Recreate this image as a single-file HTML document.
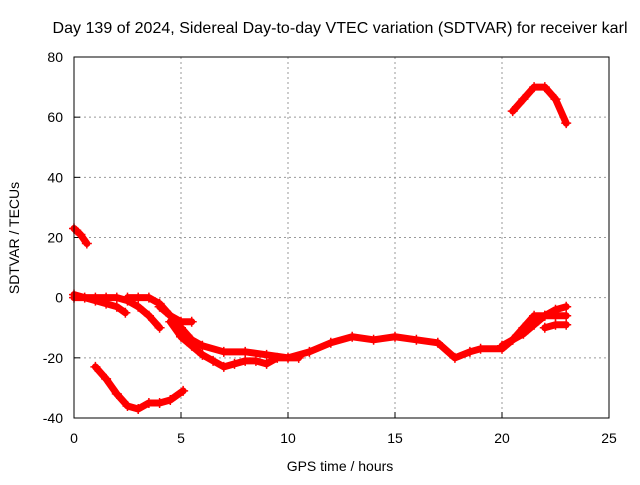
<!DOCTYPE html>
<html><head><meta charset="utf-8"><style>
body{margin:0;background:#fff}
svg text{font-family:"Liberation Sans",sans-serif;font-size:14px;fill:#000}
</style></head><body>
<svg width="640" height="480" id="c">
<rect width="640" height="480" fill="#fff"/>
<text x="340" y="33" text-anchor="middle" style="font-size:16px" textLength="575">Day 139 of 2024, Sidereal Day-to-day VTEC variation (SDTVAR) for receiver karl</text>
<text x="340" y="471" text-anchor="middle">GPS time / hours</text>
<text transform="translate(19,238) rotate(-90)" text-anchor="middle">SDTVAR / TECUs</text>
<g id="grid"></g><g id="marks"></g>
<rect x="74" y="57" width="535" height="361" fill="none" stroke="#000"/>
</svg>
<script>
const xTicks=[0,5,10,15,20,25];
const yTicks=[-40,-20,0,20,40,60,80];
const s1=[[0,23],[0.3,21],[0.6,18]];
const s2=[[1,-23],[1.5,-27],[2,-32],[2.5,-36],[3,-37],[3.5,-35],[4,-35],[4.5,-34],[5.1,-31]];
const s3=[[0,1],[0.5,0],[1,-1],[1.5,-2],[2,-3],[2.4,-5]];
const s4=[[0,0],[1,0],[1.5,0],[2,0],[2.5,-1],[3,-3],[3.5,-6],[4,-10]];
const s5=[[2.5,0],[3,0],[3.5,0],[4,-2],[4.5,-6],[5,-10],[5.5,-14],[6,-16],[7,-18],[8,-18],[9,-19],[10,-20],[11,-18],[12,-15],[13,-13],[14,-14],[15,-13],[16,-14],[17,-15],[17.8,-20],[18.5,-18],[19,-17],[20,-17],[20.5,-14],[21,-10],[21.5,-6],[22,-6],[22.5,-6],[23,-6]];
const s6=[[4,-3],[4.5,-6],[5,-8],[5.5,-8]];
const s7=[[4.5,-8],[5,-13],[5.5,-16],[6,-19],[6.5,-21],[7,-23],[7.5,-22],[8,-21],[8.5,-21],[9,-22],[9.5,-20],[10.5,-20]];
const s8=[[20.5,62],[21,66],[21.5,70],[22,70],[22.5,66],[23,58]];
const s9=[[20,-16],[20.5,-14],[21,-12],[21.5,-9],[22,-6],[22.5,-4],[23,-3]];
const s10=[[22,-10],[22.5,-9],[23,-9]];
const series=[s1,s2,s3,s4,s5,s6,s7,s8,s9,s10];
const X=v=>74+v*535/25, Y=v=>418-(v+40)*361/120;
const NS="http://www.w3.org/2000/svg";
const g=document.getElementById('grid'), m=document.getElementById('marks');
function el(t,a,p){const e=document.createElementNS(NS,t);for(const k in a)e.setAttribute(k,a[k]);p.appendChild(e);return e;}
xTicks.forEach(v=>{
 if(v>0&&v<25){const l=el('line',{x1:X(v),x2:X(v),y1:57,y2:418,stroke:'#999','stroke-dasharray':'2,3'},g);
 
 }
 el('line',{x1:X(v),x2:X(v),y1:418,y2:412,stroke:'#000'},g);
 const t=el('text',{x:X(v),y:443,'text-anchor':'middle'},g);t.textContent=v;
 
 
});
yTicks.forEach(v=>{
 if(v>-40&&v<80){const l=el('line',{x1:74,x2:609,y1:Y(v),y2:Y(v),stroke:'#999','stroke-dasharray':'2,3'},g);
 
 }
 el('line',{x1:74,x2:80,y1:Y(v),y2:Y(v),stroke:'#000'},g);
 const t=el('text',{x:63,y:Y(v)+5,'text-anchor':'end'},g);t.textContent=v;
 
 
});
series.forEach((s,i)=>{
 const p=el('polyline',{points:s.map(d=>X(d[0])+','+Y(d[1])).join(' '),fill:'none',stroke:'#f00','stroke-width':7,'stroke-linejoin':'round','stroke-linecap':'round'},m);
 
 
 s.forEach(d=>{const x=X(d[0]),y=Y(d[1]);
  const pt=el('path',{d:`M${x-5},${y}h10M${x},${y-5}v10`,stroke:'#f00','stroke-width':1.5},m);
  
  });
});
</script>
</body></html>
